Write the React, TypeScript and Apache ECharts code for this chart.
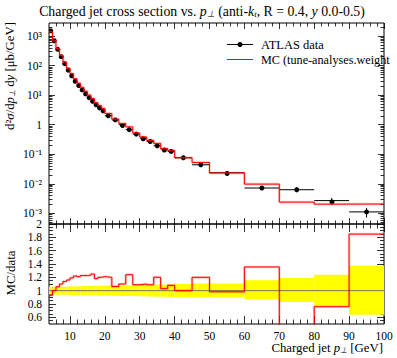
import React, { useEffect, useRef } from 'react';
import * as echarts from 'echarts';

// ---------- data ----------
const binEdges = [4, 5, 6, 7, 8, 9, 10, 11, 12, 13, 14, 15, 16, 17, 18, 19, 20, 22, 24, 26, 28, 30, 32, 34, 36, 38, 40, 45, 50, 60, 70, 80, 90, 100];
const dataValues = [1500, 690, 355, 200, 116, 70, 45, 29.5, 21, 15, 11, 8.2, 6.2, 4.7, 3.7, 2.95, 2.0, 1.45, 1.0, 0.68, 0.48, 0.35, 0.27, 0.194, 0.15, 0.125, 0.076, 0.044, 0.0237, 0.0072, 0.0063, 0.0027, 0.00112];
const mcValues = [1395, 690, 376, 220, 132, 81.2, 53.6, 36.0, 25.4, 18.4, 13.5, 10.1, 7.75, 5.55, 4.44, 3.57, 2.4, 1.54, 1.1, 0.843, 0.523, 0.385, 0.294, 0.233, 0.1545, 0.135, 0.076, 0.0528, 0.0233, 0.00976, 0.0024, 0.00205, 0.00207];
const errUp = [0.058, 0.058, 0.06, 0.06, 0.06, 0.062, 0.065, 0.065, 0.065, 0.067, 0.07, 0.07, 0.07, 0.07, 0.072, 0.075, 0.075, 0.077, 0.08, 0.08, 0.082, 0.085, 0.087, 0.09, 0.092, 0.095, 0.1, 0.108, 0.108, 0.157, 0.19, 0.24, 0.375];
const errDn = [0.058, 0.058, 0.06, 0.06, 0.06, 0.062, 0.065, 0.065, 0.065, 0.067, 0.07, 0.07, 0.07, 0.07, 0.072, 0.075, 0.075, 0.077, 0.08, 0.08, 0.082, 0.085, 0.087, 0.09, 0.092, 0.095, 0.097, 0.095, 0.095, 0.13, 0.17, 0.23, 0.36];

const xMajorTicks = [10, 20, 30, 40, 50, 60, 70, 80, 90, 100];
const xMinorTicks = [6, 8, 12, 14, 16, 18, 22, 24, 26, 28, 32, 34, 36, 38, 42, 44, 46, 48, 52, 54, 56, 58, 62, 64, 66, 68, 72, 74, 76, 78, 82, 84, 86, 88, 92, 94, 96, 98];
const mainDecades = [-3, -2, -1, 0, 1, 2, 3];
const ratioMajorTicks = [0.6, 0.8, 1, 1.2, 1.4, 1.6, 1.8, 2];
const ratioMinorTicks = [0.55, 0.65, 0.7, 0.75, 0.85, 0.9, 0.95, 1.05, 1.1, 1.15, 1.25, 1.3, 1.35, 1.45, 1.5, 1.55, 1.65, 1.7, 1.75, 1.85, 1.9, 1.95];
const legendLabels = ['ATLAS data', 'MC (tune-analyses.weight'];

const FONT = 'Liberation Serif';
const TXT = 12.8;
const TITLE = 13.8;
const X_MIN = 4, X_MAX = 100;
const Y_LOG_MIN = -3.36, Y_LOG_MAX = 3.44;
const R_MIN = 0.5, R_MAX = 2.0;

const SUP: Record<string, string> = { '-': '\u207B', '0': '\u2070', '1': '\u00B9', '2': '\u00B2', '3': '\u00B3', '4': '\u2074', '5': '\u2075' };
const decadeLabel = (v: number) => {
  const n = Math.round(v);
  if (n === 0) return '1';
  return '10' + String(n).split('').map((c) => SUP[c] || c).join('');
};

function xAxis(grid: number, pos: 'top' | 'bottom', ticks: number[], len: number, labels: boolean) {
  return {
    type: 'value', gridIndex: grid, position: pos, min: X_MIN, max: X_MAX,
    axisLine: { show: false, onZero: false },
    splitLine: { show: false },
    axisTick: { show: true, inside: true, length: len, customValues: ticks, lineStyle: { color: '#000', width: 0.8 } },
    axisLabel: labels
      ? { show: true, customValues: ticks, margin: 6, color: '#000', fontFamily: FONT, fontSize: 11.5 }
      : { show: false },
  };
}

function yAxis(grid: number, pos: 'left' | 'right', min: number, max: number, ticks: number[], len: number, labels: ((v: number) => string) | null) {
  return {
    type: 'value', gridIndex: grid, position: pos, min, max,
    axisLine: { show: false, onZero: false },
    splitLine: { show: false },
    axisTick: { show: true, inside: true, length: len, customValues: ticks, lineStyle: { color: '#000', width: 0.8 } },
    axisLabel: labels
      ? { show: true, customValues: ticks, margin: 7, color: '#000', fontFamily: FONT, fontSize: 11.5, formatter: labels }
      : { show: false },
  };
}

export default function App() {
  const ref = useRef<HTMLDivElement>(null);
  useEffect(() => {
    if (!ref.current) return;
    const chart = echarts.init(ref.current, undefined, { renderer: 'svg' });

    const nb = dataValues.length;
    const mainStep = mcValues.map((v, i) => [binEdges[i], Math.log10(v)]);
    mainStep.push([binEdges[nb], Math.log10(mcValues[nb - 1])]);
    const ratio = mcValues.map((v, i) => v / dataValues[i]);
    const ratioStep = ratio.map((r, i) => [binEdges[i], r]);
    ratioStep.push([binEdges[nb], ratio[nb - 1]]);

    const dataPts = dataValues.map((v, i) => [
      binEdges[i], binEdges[i + 1], (binEdges[i] + binEdges[i + 1]) / 2,
      Math.log10(v * (1 - errDn[i])), Math.log10(v * (1 + errUp[i])), Math.log10(v),
    ]);
    const band = dataValues.map((_, i) => [binEdges[i], binEdges[i + 1], 1 - errDn[i], 1 + errUp[i]]);

    const minorDecades: number[] = [];
    for (let n = -4; n <= 3; n++) {
      for (let k = 2; k <= 9; k++) {
        const l = Math.log10(k) + n;
        if (l > Y_LOG_MIN && l < Y_LOG_MAX) minorDecades.push(l);
      }
    }

    const ratioFmt = (v: number) => String(Math.round(v * 10) / 10);

    const richStyles = (size: number) => ({
      n: { fontFamily: FONT, fontSize: size, fill: '#000' },
      i: { fontFamily: FONT, fontSize: size, fontStyle: 'italic', fill: '#000' },
      s: { fontFamily: FONT, fontSize: size * 0.65, fontStyle: 'italic', fill: '#000', verticalAlign: 'bottom', lineHeight: size * 0.9 },
    });

    const option: any = {
      animation: false,
      backgroundColor: '#fff',
      grid: [
        { left: 49, top: 23, width: 335, height: 201, show: true, borderColor: '#000', borderWidth: 1, backgroundColor: 'transparent', containLabel: false, outerBoundsMode: 'none' },
        { left: 49, top: 224, width: 335, height: 100, show: true, borderColor: '#000', borderWidth: 1, backgroundColor: 'transparent', containLabel: false, outerBoundsMode: 'none' },
      ],
      xAxis: [
        xAxis(0, 'bottom', xMajorTicks, 6, false),
        xAxis(0, 'bottom', xMinorTicks, 3.5, false),
        xAxis(0, 'top', xMajorTicks, 6, false),
        xAxis(0, 'top', xMinorTicks, 3.5, false),
        xAxis(1, 'bottom', xMajorTicks, 8, true),
        xAxis(1, 'bottom', xMinorTicks, 4.5, false),
        xAxis(1, 'top', xMajorTicks, 8, false),
        xAxis(1, 'top', xMinorTicks, 4.5, false),
      ],
      yAxis: [
        yAxis(0, 'left', Y_LOG_MIN, Y_LOG_MAX, mainDecades, 6, decadeLabel),
        yAxis(0, 'left', Y_LOG_MIN, Y_LOG_MAX, minorDecades, 3.5, null),
        yAxis(0, 'right', Y_LOG_MIN, Y_LOG_MAX, mainDecades, 6, null),
        yAxis(0, 'right', Y_LOG_MIN, Y_LOG_MAX, minorDecades, 3.5, null),
        yAxis(1, 'left', R_MIN, R_MAX, ratioMajorTicks, 7, ratioFmt),
        yAxis(1, 'left', R_MIN, R_MAX, ratioMinorTicks, 4, null),
        yAxis(1, 'right', R_MIN, R_MAX, ratioMajorTicks, 7, null),
        yAxis(1, 'right', R_MIN, R_MAX, ratioMinorTicks, 4, null),
      ],
      series: [
        {
          type: 'line', xAxisIndex: 0, yAxisIndex: 0, step: 'end', data: mainStep, showSymbol: false, silent: true,
          lineStyle: { color: 'rgba(255,0,0,0.22)', width: 2.6 }, clip: true,
        },
        {
          type: 'line', xAxisIndex: 0, yAxisIndex: 0, step: 'end', data: mainStep, showSymbol: false, silent: true,
          lineStyle: { color: '#ff0000', width: 1 }, clip: true,
        },
        {
          type: 'custom', xAxisIndex: 0, yAxisIndex: 0, data: dataPts, silent: true, clip: true,
          encode: { x: [0, 1, 2], y: [3, 4, 5] },
          renderItem: (_p: any, api: any) => {
            const lo = api.value(0), hi = api.value(1), xc = api.value(2);
            const yl = api.value(3), yh = api.value(4), y = api.value(5);
            const pL = api.coord([lo, y]), pR = api.coord([hi, y]);
            const pT = api.coord([xc, yh]), pB = api.coord([xc, yl]), pC = api.coord([xc, y]);
            return {
              type: 'group',
              children: [
                { type: 'line', shape: { x1: pL[0], y1: pL[1], x2: pR[0], y2: pR[1] }, style: { stroke: '#000', lineWidth: 1 } },
                { type: 'line', shape: { x1: pT[0], y1: pT[1], x2: pB[0], y2: pB[1] }, style: { stroke: '#000', lineWidth: 1 } },
                { type: 'circle', shape: { cx: pC[0], cy: pC[1], r: 2.5 }, style: { fill: '#000' } },
              ],
            };
          },
        },
        {
          type: 'custom', xAxisIndex: 4, yAxisIndex: 4, data: band, silent: true, clip: true,
          encode: { x: [0, 1], y: [2, 3] },
          renderItem: (_p: any, api: any) => {
            const a = api.coord([api.value(0), api.value(3)]);
            const b = api.coord([api.value(1), api.value(2)]);
            return { type: 'rect', shape: { x: a[0], y: a[1], width: b[0] - a[0], height: b[1] - a[1] }, style: { fill: '#ffff00' } };
          },
        },
        {
          type: 'line', xAxisIndex: 4, yAxisIndex: 4, data: [[X_MIN, 1], [X_MAX, 1]], showSymbol: false, silent: true,
          lineStyle: { color: '#666', width: 0.9 },
        },
        {
          type: 'line', xAxisIndex: 4, yAxisIndex: 4, step: 'end', data: ratioStep, showSymbol: false, silent: true,
          lineStyle: { color: 'rgba(255,0,0,0.22)', width: 2.6 }, clip: true,
        },
        {
          type: 'line', xAxisIndex: 4, yAxisIndex: 4, step: 'end', data: ratioStep, showSymbol: false, silent: true,
          lineStyle: { color: '#ff0000', width: 1 }, clip: true,
        },
      ],
      graphic: [
        {
          type: 'text', x: 202, y: 11, silent: true,
          style: {
            text: '{n|Charged jet cross section vs. }{i|p}{s|\u22A5}{n| (anti-}{i|k}{s|t}{n|, R = 0.4, }{i|y}{n| 0.0-0.5)}',
            align: 'center', verticalAlign: 'middle', fill: '#000',
            rich: richStyles(TITLE),
          },
        },
        {
          type: 'text', x: 10, y: 22, rotation: Math.PI / 2, silent: true,
          style: {
            text: '{n|d\u00B2}{i|\u03C3}{n|/d}{i|p}{s|\u22A5}{n| d}{i|y}{n| [\u03BCb/GeV]}',
            align: 'right', verticalAlign: 'middle', fill: '#000',
            rich: richStyles(TXT),
          },
        },
        {
          type: 'text', x: 11, y: 273, rotation: Math.PI / 2, silent: true,
          style: { text: 'MC/data', align: 'center', verticalAlign: 'middle', fill: '#000', fontFamily: FONT, fontSize: TXT },
        },
        {
          type: 'text', x: 383, y: 348, silent: true,
          style: {
            text: '{n|Charged jet }{i|p}{s|\u22A5}{n| [GeV]}',
            align: 'right', verticalAlign: 'middle', fill: '#000',
            rich: richStyles(TXT),
          },
        },
        // legend
        { type: 'line', silent: true, shape: { x1: 227, y1: 44.5, x2: 253, y2: 44.5 }, style: { stroke: '#000', lineWidth: 1 } },
        { type: 'circle', silent: true, shape: { cx: 240, cy: 44.5, r: 2.5 }, style: { fill: '#000' } },
        { type: 'text', silent: true, x: 261, y: 44.5, style: { text: legendLabels[0], fontFamily: FONT, fontSize: 12.5, fill: '#000', verticalAlign: 'middle', align: 'left' } },
        { type: 'line', silent: true, shape: { x1: 227, y1: 59.5, x2: 253, y2: 59.5 }, style: { stroke: '#ff0000', lineWidth: 1 } },
        { type: 'text', silent: true, x: 261, y: 59.5, style: { text: legendLabels[1], fontFamily: FONT, fontSize: 12.2, fill: '#000', verticalAlign: 'middle', align: 'left' } },
      ],
    };
    chart.setOption(option);
    return () => chart.dispose();
  }, []);

  return <div ref={ref} style={{ position: 'absolute', left: 0, top: 0, width: 397, height: 358 }} />;
}
